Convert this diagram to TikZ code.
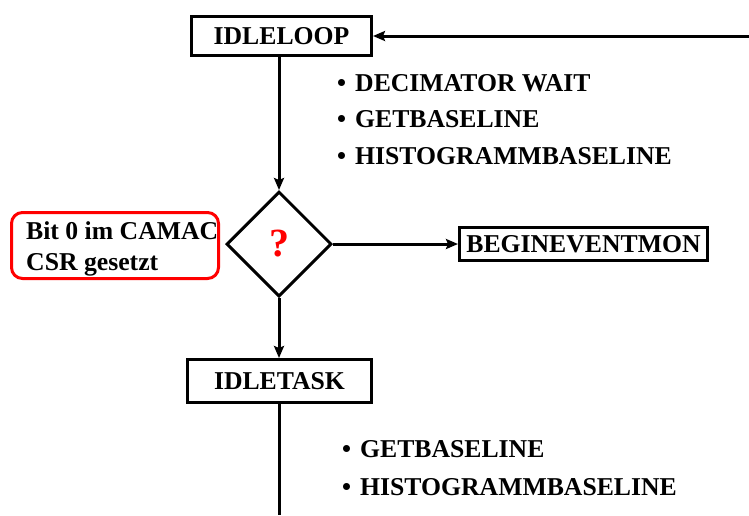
\documentclass[tikz,border=0pt]{standalone}
\usepackage{fontspec}
\setmainfont{Liberation Serif}
\usetikzlibrary{shapes.geometric,arrows.meta}
\newcommand{\itemdot}{\textbullet\hspace{9pt}}
\begin{document}
\begin{tikzpicture}[x=1pt,y=-1pt,
  txt/.style={font=\fontsize{25.7}{30}\selectfont\bfseries},
  procbox/.style={txt,draw,line width=3pt,rectangle,inner sep=0pt},
  decision/.style={draw,line width=3pt,diamond,aspect=1,inner sep=0pt,
    minimum width=105pt,minimum height=105pt},
  notebox/.style={draw=red,line width=3pt,rounded corners=11pt,
    minimum width=207pt,minimum height=66pt,inner sep=0pt},
  notetext/.style={anchor=west,align=left,inner sep=0pt,
    font=\fontsize{25.7}{31}\selectfont\bfseries},
  item/.style={txt,anchor=base west,inner sep=0pt},
  flow/.style={line width=3pt,-{Stealth[length=12pt,width=10pt,inset=2pt]}},
  plain/.style={line width=3pt}]
\useasboundingbox (0,0) rectangle (749,515);

% main chain
\node[procbox,minimum width=180pt,minimum height=39pt] (loop) at (281.5,36) {IDLELOOP};
\node[decision] (q) at (279,244) {};
\node[text=red,font=\fontsize{40}{40}\selectfont\bfseries] (qm) at (q.center) {?};
\node[procbox,minimum width=248pt,minimum height=33pt] (bem) at (583.5,244) {BEGINEVENTMON};
\node[procbox,minimum width=184pt,minimum height=43pt] (task) at (279.5,381) {IDLETASK};

% condition note
\node[notebox] (cond) at (115,245.5) {};
\node[notetext] (condtext) at (26,249) {Bit 0 im CAMAC\\CSR gesetzt};

% free ends
\coordinate (back) at (749,36);
\coordinate (down) at (279,515);

% connectors
\draw[flow] (back) -- (loop.east);
\draw[flow] (loop.south -| q.north) -- (q.north);
\draw[flow] (q.east) -- (bem.west);
\draw[flow] (q.south) -- (task.north -| q.south);
\draw[plain] (task.south -| down) -- (down);

% item lists
\node[item] (l1) at (337,91) {\itemdot DECIMATOR WAIT};
\node[item] (l2) at (337,127) {\itemdot GETBASELINE};
\node[item] (l3) at (337,164) {\itemdot HISTOGRAMMBASELINE};
\node[item] (t1) at (342,457) {\itemdot GETBASELINE};
\node[item] (t2) at (342,495) {\itemdot HISTOGRAMMBASELINE};
\end{tikzpicture}
\end{document}
